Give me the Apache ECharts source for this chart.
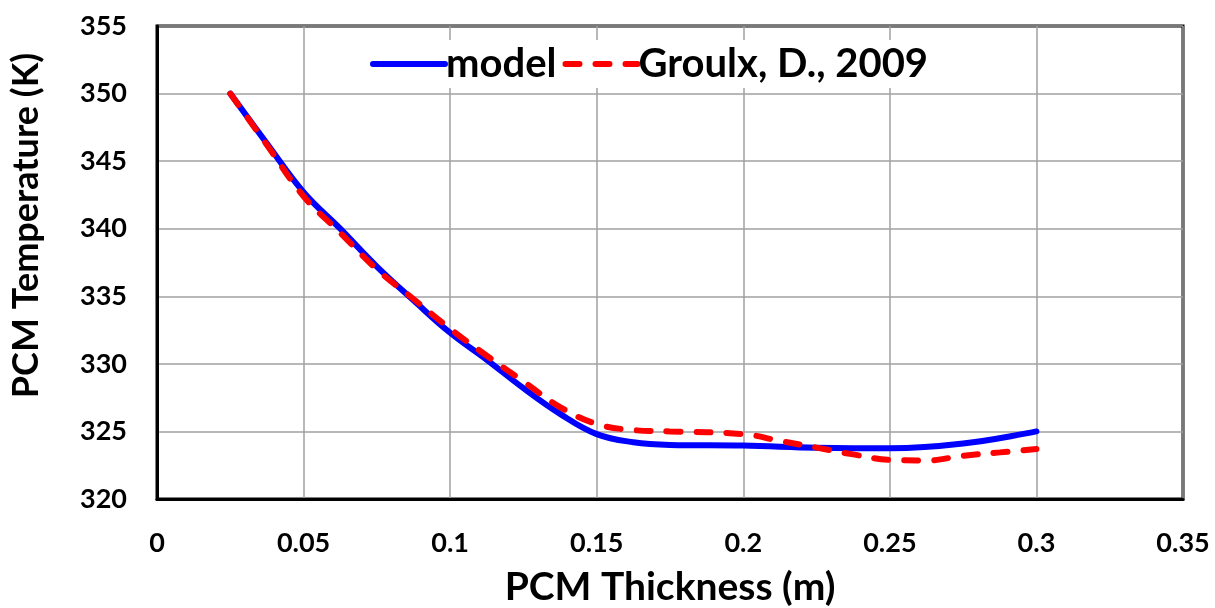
<!DOCTYPE html>
<html>
<head>
<meta charset="utf-8">
<script src="https://cdn.jsdelivr.net/npm/echarts@6/dist/echarts.min.js"></script>
<style>
html, body { margin: 0; padding: 0; background: #fff; }
#chart { width: 1215px; height: 608px; }
</style>
</head>
<body>
<div id="chart"></div>
<script>
// thickness (m) / temperature (K)
var modelX = [0.025, 0.0375, 0.05, 0.0625, 0.075, 0.0875, 0.1, 0.1125, 0.125, 0.1375, 0.15, 0.1625, 0.175, 0.2, 0.225, 0.25, 0.275, 0.3];
var modelT = [350, 346.3, 342.7, 340.0, 337.2, 334.7, 332.3, 330.3, 328.2, 326.3, 324.8, 324.2, 324.0, 323.95, 323.8, 323.75, 324.1, 325.0];

var groulxX = [0.025, 0.0375, 0.05, 0.0625, 0.075, 0.0875, 0.1, 0.1125, 0.125, 0.1375, 0.15, 0.1625, 0.175, 0.2, 0.2125, 0.225, 0.2375, 0.25, 0.2625, 0.275, 0.2875, 0.3];
var groulxT = [350, 346.2, 342.4, 339.7, 337.0, 334.8, 332.6, 330.6, 328.7, 326.8, 325.55, 325.1, 325.0, 324.8, 324.3, 323.8, 323.3, 322.9, 322.85, 323.2, 323.45, 323.7];

var seriesNames = ['model', 'Groulx, D., 2009'];

function pairs(xs, ys) {
    var out = [];
    for (var i = 0; i < xs.length; i++) out.push([xs[i], ys[i]]);
    return out;
}

var font = 'Lato, "Open Sans", sans-serif';
var chart = echarts.init(document.getElementById('chart'));

var option = {
    animation: false,
    grid: {
        left: 157,
        right: 32,
        top: 26,
        bottom: 109,
        containLabel: false,
        outerBoundsMode: 'none',
        show: true,
        borderColor: '#000',
        borderWidth: 3
    },
    legend: {
        data: seriesNames,
        left: 364,
        top: 40,
        itemWidth: 72,
        itemHeight: 14,
        itemGap: 6,
        padding: [4, 6],
        backgroundColor: '#fff',
        itemStyle: { opacity: 0 },
        lineStyle: { width: 6, cap: 'round' },
        textStyle: {
            fontFamily: font,
            fontWeight: 'bold',
            fontSize: 40,
            color: '#000',
            padding: [0, 0, 0, -4]
        }
    },
    xAxis: {
        type: 'value',
        min: 0,
        max: 0.35,
        interval: 0.05,
        name: 'PCM Thickness (m)',
        nameLocation: 'middle',
        nameGap: 69,
        nameTextStyle: {
            fontFamily: font,
            fontWeight: 'bold',
            fontSize: 39,
            color: '#000'
        },
        axisLine: { show: true, lineStyle: { color: '#000', width: 3 } },
        axisTick: { show: false },
        axisLabel: {
            margin: 31,
            fontFamily: font,
            fontWeight: 'bold',
            fontSize: 27,
            color: '#000'
        },
        splitLine: { show: true, lineStyle: { color: '#a0a0a0', width: 1.5 } }
    },
    yAxis: {
        type: 'value',
        min: 320,
        max: 355,
        interval: 5,
        name: 'PCM Temperature (K)',
        nameLocation: 'middle',
        nameGap: 113,
        nameTextStyle: {
            fontFamily: font,
            fontWeight: 'bold',
            fontSize: 36,
            color: '#000',
            padding: [0, 0, 0, 74]
        },
        axisLine: { show: true, lineStyle: { color: '#000', width: 3 } },
        axisTick: { show: false },
        axisLabel: {
            margin: 30,
            fontFamily: font,
            fontWeight: 'bold',
            fontSize: 27,
            color: '#000'
        },
        splitLine: { show: true, lineStyle: { color: '#a0a0a0', width: 1.5 } }
    },
    series: [
        {
            name: seriesNames[0],
            type: 'line',
            data: pairs(modelX, modelT),
            smooth: 0.4,
            showSymbol: false,
            symbol: 'none',
            lineStyle: { color: '#0000ff', width: 6, cap: 'round' },
            itemStyle: { color: '#0000ff' },
            z: 2
        },
        {
            name: seriesNames[1],
            type: 'line',
            data: pairs(groulxX, groulxT),
            smooth: 0.4,
            showSymbol: false,
            symbol: 'none',
            lineStyle: { color: '#ff0000', width: 6, type: [14, 16], cap: 'round' },
            itemStyle: { color: '#ff0000' },
            z: 3
        }
    ]
};

chart.setOption(option);
</script>
</body>
</html>
